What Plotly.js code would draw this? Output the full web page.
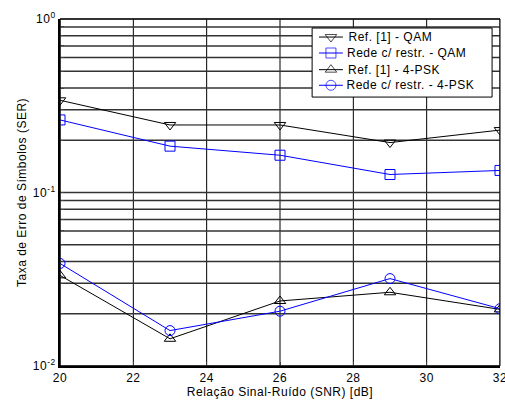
<!DOCTYPE html>
<html><head><meta charset="utf-8">
<script src="https://cdn.plot.ly/plotly-3.0.1.min.js"></script>
<style>html,body{margin:0;padding:0;background:#fff}#g{width:505px;height:403px}
#g text{letter-spacing:0.5px}</style>
</head><body><div id="g"></div>
<script>
var snr = [20, 23, 26, 29, 32];
var refQAM = [0.34, 0.245, 0.245, 0.194, 0.229];
var redeQAM = [0.262, 0.185, 0.164, 0.127, 0.134];
var refPSK = [0.0333, 0.01435, 0.0237, 0.0266, 0.0212];
var redePSK = [0.039, 0.016, 0.0207, 0.0319, 0.0214];
var names = ['Ref. [1] - QAM', 'Rede c/ restr. - QAM', 'Ref. [1] - 4-PSK', 'Rede c/ restr. - 4-PSK'];
var colors = ['#000000', '#0000ff', '#000000', '#0000ff'];
var symbols = ['triangle-down-open', 'square-open', 'triangle-up-open', 'circle-open'];
var xTicks = [20, 22, 24, 26, 28, 30, 32];

var xRange = [20, 32], yLogRange = [-2, 0];
var yTickVals = [], yTickText = [];
[-2, -1].forEach(function(e){
  for (var m = 1; m <= 9; m++) {
    yTickVals.push(m * Math.pow(10, e));
    yTickText.push(m === 1 ? '10<sup>' + e + '</sup>' : '');
  }
});
yTickVals.push(1); yTickText.push('10<sup>0</sup>');

var series = [refQAM, redeQAM, refPSK, redePSK];
var data = series.map(function(y, i) {
  return {x: snr, y: y, name: names[i], mode: 'lines+markers', type: 'scatter',
    showlegend: false,
    line: {color: colors[i], width: 1},
    marker: {symbol: symbols[i], size: 10, color: colors[i], line: {color: colors[i], width: 1}}};
});

// compact legend placed by plot-area fractions
function fx(f) { return xRange[0] + f * (xRange[1] - xRange[0]); }
function fy(f) { return Math.pow(10, yLogRange[0] + f * (yLogRange[1] - yLogRange[0])); }
function yFrac(v) { return (Math.log10(v) - yLogRange[0]) / (yLogRange[1] - yLogRange[0]); }
var legX0 = 0.573, legX1 = 0.982, legYTop = 0.974, legYBot = 0.775;
var rowY = [0.948, 0.902, 0.854, 0.809];
var symX0 = 0.5886, symX1 = 0.643, textX = 0.659;
var annotations = [];
names.forEach(function(n, i) {
  data.push({x: [fx(symX0), fx((symX0 + symX1) / 2), fx(symX1)], y: [fy(rowY[i]), fy(rowY[i]), fy(rowY[i])],
    mode: 'lines+markers', showlegend: false, hoverinfo: 'skip', cliponaxis: false,
    line: {color: colors[i], width: 1},
    marker: {symbol: symbols[i], size: [0, 10, 0], color: colors[i], line: {color: colors[i], width: 1}}});
  annotations.push({xref: 'paper', yref: 'paper', x: textX, y: rowY[i], xanchor: 'left', yanchor: 'middle',
    text: n, showarrow: false, font: {size: 12, color: '#000'}});
});

// gridlines as shapes so the legend box can cover them
var shapes = [];
xTicks.forEach(function(t) {
  shapes.push({type: 'line', layer: 'below', xref: 'x', yref: 'y domain', x0: t, x1: t, y0: 0, y1: 1,
    line: {color: '#000', width: 1}});
});
yTickVals.forEach(function(v) {
  shapes.push({type: 'line', layer: 'below', xref: 'x domain', yref: 'y domain', x0: 0, x1: 1,
    y0: yFrac(v), y1: yFrac(v), line: {color: '#333', width: 1.5}});
});
shapes.push({type: 'rect', layer: 'below', xref: 'x domain', yref: 'y domain',
  x0: legX0, x1: legX1, y0: legYBot, y1: legYTop, fillcolor: '#fff', line: {color: '#000', width: 1}});
shapes.push({type: 'rect', xref: 'paper', yref: 'paper', x0: 0, x1: 1, y0: 0, y1: 1,
  line: {color: '#000', width: 1}});

var layout = {
  width: 505, height: 403,
  margin: {l: 60, r: 5, t: 19, b: 37},
  paper_bgcolor: '#fff', plot_bgcolor: 'rgba(0,0,0,0)',
  font: {family: 'Liberation Sans, Arial, sans-serif', size: 12, color: '#000'},
  showlegend: false,
  xaxis: {range: [xRange[0], xRange[1] + 0.0001], tickvals: xTicks, ticktext: xTicks.map(String),
    showgrid: false, zeroline: false,
    showline: true, linecolor: '#000', linewidth: 2, ticks: 'inside', ticklen: 4,
    ticklabeloverflow: 'allow',
    tickfont: {size: 12}, title: {text: 'Relação Sinal-Ruído (SNR) [dB]', font: {size: 12}, standoff: 3}},
  yaxis: {type: 'log', range: yLogRange, tickvals: yTickVals, ticktext: yTickText,
    showgrid: false, zeroline: false,
    showline: true, linecolor: '#000', linewidth: 2, ticks: 'inside', ticklen: 4,
    tickfont: {size: 12}, title: {text: 'Taxa de Erro de Símbolos (SER)', font: {size: 12}, standoff: 6}},
  annotations: annotations,
  shapes: shapes
};
Plotly.newPlot('g', data, layout, {displayModeBar: false, staticPlot: true});
</script></body></html>
